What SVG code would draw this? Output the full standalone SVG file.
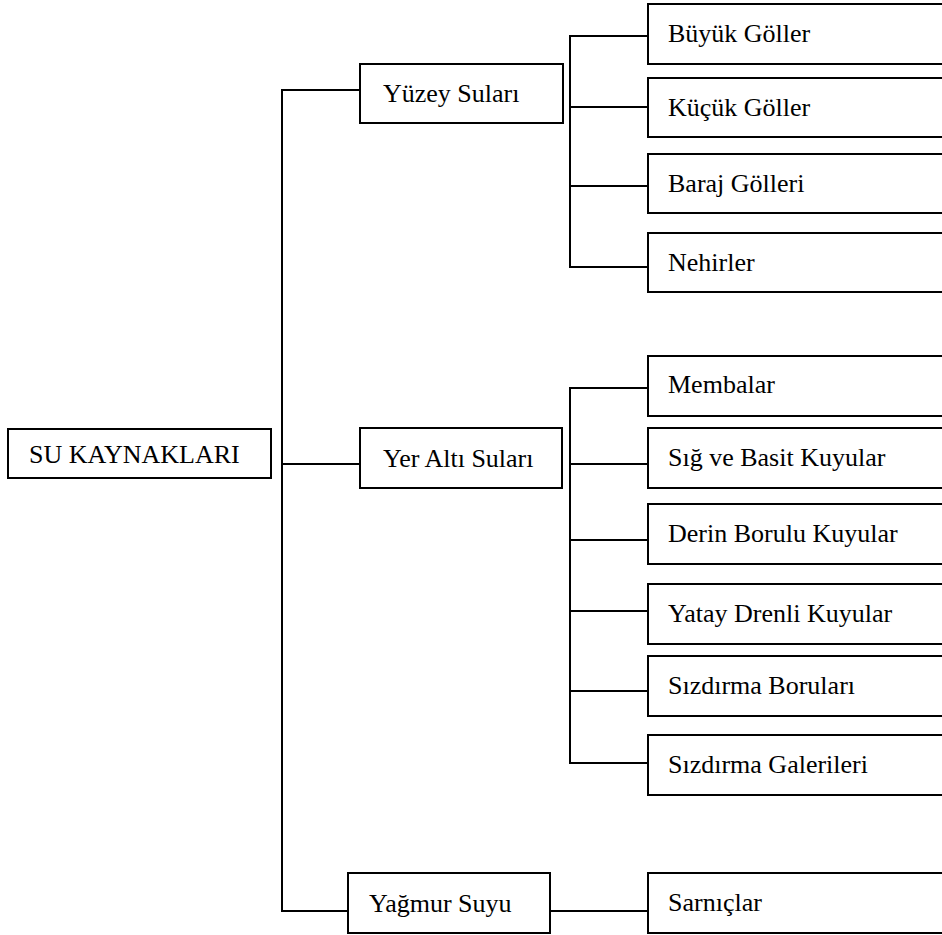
<svg xmlns="http://www.w3.org/2000/svg" width="942" height="935" viewBox="0 0 942 935">
<style>
rect{fill:#fff;stroke:#000;stroke-width:2}
path{fill:none;stroke:#000;stroke-width:2}
</style>
<rect x="0" y="0" width="942" height="935" style="stroke:none"/>
<g id="connectors">
<path d="M360,90H282V911H348M282,464H360"/>
<path d="M648,36H570V267H648M570,107H648M570,186H648"/>
<path d="M648,388H570V763H648M570,464H648M570,540H648M570,611H648M570,691H648"/>
<path d="M550,911H648"/>
</g>
<g font-family="Liberation Serif, DejaVu Serif, Times New Roman, serif" font-size="26" fill="#000">
<g id="root"><rect x="8" y="429" width="263" height="49"/><text x="29" y="463">SU KAYNAKLARI</text></g>
<g id="yuzey"><rect x="360" y="64" width="203" height="59"/><text x="383" y="102">Yüzey Suları</text></g>
<g id="yeralti"><rect x="360" y="428" width="202" height="60"/><text x="383" y="467">Yer Altı Suları</text></g>
<g id="yagmur"><rect x="348" y="873" width="202" height="60"/><text x="369" y="912">Yağmur Suyu</text></g>
<g id="buyuk"><rect x="648" y="4" width="320" height="60"/><text x="668" y="42">Büyük Göller</text></g>
<g id="kucuk"><rect x="648" y="78" width="320" height="59"/><text x="668" y="116">Küçük Göller</text></g>
<g id="baraj"><rect x="648" y="154" width="320" height="59"/><text x="668" y="192">Baraj Gölleri</text></g>
<g id="nehir"><rect x="648" y="233" width="320" height="59"/><text x="668" y="271">Nehirler</text></g>
<g id="memba"><rect x="648" y="356" width="320" height="60"/><text x="668" y="393">Membalar</text></g>
<g id="sig"><rect x="648" y="428" width="320" height="60"/><text x="668" y="466">Sığ ve Basit Kuyular</text></g>
<g id="derin"><rect x="648" y="504" width="320" height="60"/><text x="668" y="542">Derin Borulu Kuyular</text></g>
<g id="yatay"><rect x="648" y="584" width="320" height="60"/><text x="668" y="622">Yatay Drenli Kuyular</text></g>
<g id="sizb"><rect x="648" y="656" width="320" height="60"/><text x="668" y="694">Sızdırma Boruları</text></g>
<g id="sizg"><rect x="648" y="735" width="320" height="60"/><text x="668" y="773">Sızdırma Galerileri</text></g>
<g id="sarnic"><rect x="648" y="873" width="320" height="60"/><text x="668" y="911">Sarnıçlar</text></g>
</g>
</svg>
